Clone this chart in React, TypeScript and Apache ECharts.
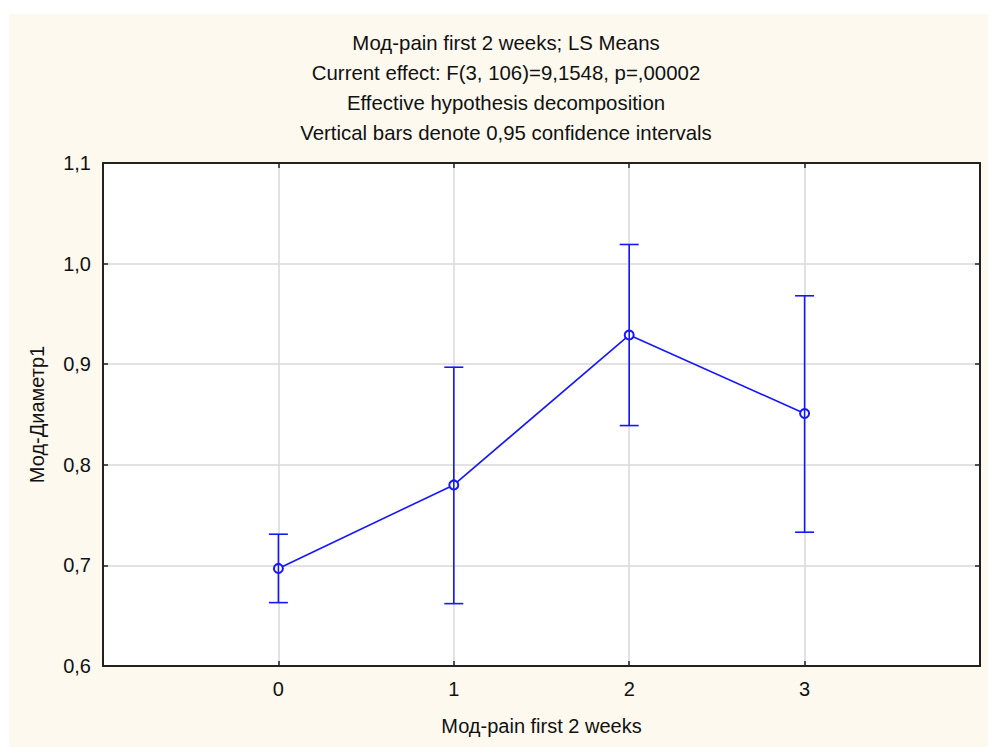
import React, { useEffect, useRef } from "react";
import * as echarts from "echarts";

const titleLines = [
  "Мод-pain first 2 weeks; LS Means",
  "Current effect: F(3, 106)=9,1548, p=,00002",
  "Effective hypothesis decomposition",
  "Vertical bars denote 0,95 confidence intervals",
];
const categories = [0, 1, 2, 3];
const means = [0.697, 0.78, 0.929, 0.851];
const lower = [0.663, 0.662, 0.839, 0.733];
const upper = [0.731, 0.897, 1.019, 0.968];
const xName = "Мод-pain first 2 weeks";
const yName = "Мод-Диаметр1";

const BLUE = "#1616ff";
const FONT = "Liberation Sans, Arial, sans-serif";

export default function App() {
  const ref = useRef<HTMLDivElement>(null);
  useEffect(() => {
    if (!ref.current) return;
    const chart = echarts.init(ref.current, undefined, { renderer: "svg" });
    const fmtY = (v: number) => v.toFixed(1).replace(".", ",");
    const axisLine = { show: true, onZero: false, lineStyle: { color: "#222", width: 2 } };
    const tick = { show: true, inside: true, length: 5, lineStyle: { color: "#222", width: 1.5 } };
    const grid = { show: true, lineStyle: { color: "#d9d9d9", width: 1.5 }, showMinLine: false, showMaxLine: false };
    chart.setOption({
      animation: false,
      textStyle: { fontFamily: FONT },
      graphic: [
        { type: "rect", z: -100, shape: { x: 9, y: 14, width: 979, height: 733 }, style: { fill: "#fdf9ef" } },
        ...titleLines.map((t, i) => ({
          type: "text",
          x: 506,
          y: 43 + i * 30,
          style: { text: t, fill: "#111", font: `20.4px ${FONT}`, textAlign: "center", textVerticalAlign: "middle" },
        })),
      ],
      grid: { left: 103, right: 8, top: 163, bottom: 81, show: true, backgroundColor: "#fff", borderWidth: 0 },
      xAxis: [
        {
          type: "value",
          min: -1,
          max: 4,
          interval: 1,
          position: "bottom",
          name: xName,
          nameLocation: "middle",
          nameGap: 50,
          nameTextStyle: { fontSize: 20, color: "#111", fontFamily: FONT },
          axisLine,
          axisTick: tick,
          splitLine: grid,
          axisLabel: {
            fontSize: 20,
            color: "#111",
            margin: 13,
            fontFamily: FONT,
            formatter: (v: number) => (categories.includes(v) ? String(v) : ""),
          },
        },
        {
          type: "value",
          min: -1,
          max: 4,
          interval: 1,
          position: "top",
          axisLine,
          axisTick: tick,
          splitLine: { show: false },
          axisLabel: { show: false },
        },
      ],
      yAxis: [
        {
          type: "value",
          min: 0.6,
          max: 1.1,
          interval: 0.1,
          position: "left",
          name: yName,
          nameLocation: "middle",
          nameGap: 56,
          nameTextStyle: { fontSize: 20, color: "#111", fontFamily: FONT },
          axisLine,
          axisTick: tick,
          splitLine: grid,
          axisLabel: { fontSize: 20, color: "#111", margin: 12, fontFamily: FONT, formatter: fmtY },
        },
        {
          type: "value",
          min: 0.6,
          max: 1.1,
          interval: 0.1,
          position: "right",
          axisLine,
          axisTick: tick,
          splitLine: { show: false },
          axisLabel: { show: false },
        },
      ],
      series: [
        {
          type: "line",
          data: categories.map((c, i) => [c, means[i]]),
          symbol: "emptyCircle",
          symbolSize: 9,
          lineStyle: { color: BLUE, width: 1.6 },
          itemStyle: { color: BLUE, borderWidth: 1.6 },
          z: 2,
        },
        {
          type: "custom",
          z: 3,
          data: categories.map((c, i) => [c, lower[i], upper[i]]),
          renderItem: (params: any, api: any) => {
            const x = api.value(0);
            const pLo = api.coord([x, api.value(1)]);
            const pHi = api.coord([x, api.value(2)]);
            const hw = 9.5;
            const st = { stroke: BLUE, lineWidth: 1.6 };
            return {
              type: "group",
              children: [
                { type: "line", shape: { x1: pLo[0], y1: pLo[1], x2: pHi[0], y2: pHi[1] }, style: st },
                { type: "line", shape: { x1: pLo[0] - hw, y1: pLo[1], x2: pLo[0] + hw, y2: pLo[1] }, style: st },
                { type: "line", shape: { x1: pHi[0] - hw, y1: pHi[1], x2: pHi[0] + hw, y2: pHi[1] }, style: st },
              ],
            };
          },
        },
      ],
    });
    return () => chart.dispose();
  }, []);
  return (
    <div
      ref={ref}
      style={{ position: "absolute", left: 0, top: 0, width: 988, height: 747, background: "#fff" }}
    />
  );
}
